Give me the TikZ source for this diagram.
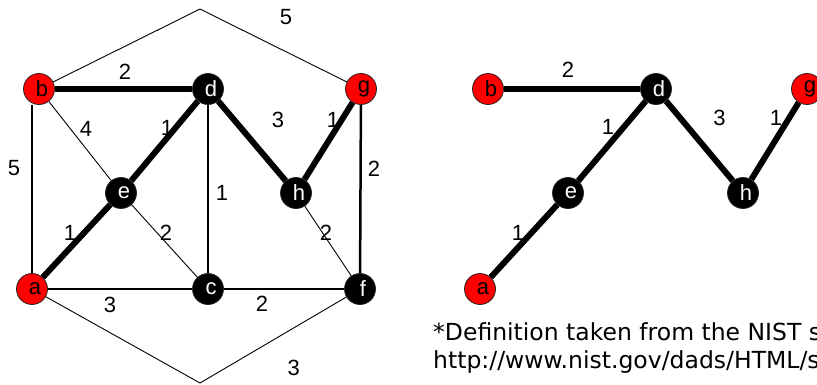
\documentclass[tikz,border=0pt]{standalone}
\usepackage{fontspec}
\setmainfont{Liberation Sans}
\newfontfamily\notefont{DejaVu Sans}
\usepackage{tikz}
\usetikzlibrary{positioning}

\begin{document}
\begin{tikzpicture}[x=1pt, y=-1pt,
  vertex/.style={circle,draw=black!85,line width=0.8pt,minimum size=31pt,inner sep=0pt,
    font=\fontsize{22}{22}\selectfont,execute at begin node={\hspace*{6pt}}},
  term/.style={vertex,fill=red,text=black},
  inner/.style={vertex,fill=black,text=white},
  wt/.style={font=\fontsize{22}{22}\selectfont,inner sep=0pt},
  tree/.style={line width=6pt},
  plain/.style={line width=2.5pt},
  light/.style={line width=0.9pt}]
  \useasboundingbox (0,0) rectangle (817,384);

  % full graph
  \node[term]  (b) at (39,89)   {b};
  \node[inner] (d) at (208,89)  {d};
  \node[term]  (g) at (361,89)  {g};
  \node[inner] (e) at (121,193) {e};
  \node[inner] (h) at (296,193) {h};
  \node[term]  (a) at (32,289)  {a};
  \node[inner] (c) at (208,289) {c};
  \node[inner] (f) at (360,289) {f};
  \coordinate (top) at (200,9);
  \coordinate (bot) at (200,383);

  \draw[tree] (b) -- node[wt,pos=.5,shift={(1.5,-17)}] {2} (d);
  \draw[tree] (d) -- node[wt,pos=.5,shift={(26,-21)}] {3} (h);
  \draw[tree] (h) -- node[wt,pos=.5,shift={(4.5,-21)}] {1} (g);
  \draw[tree] (d) -- node[wt,pos=.5,shift={(2.5,-13)}] {1} (e);
  \draw[tree] (e) -- node[wt,pos=.5,shift={(-6.5,-8)}] {1} (a);
  \draw[light] (b) -- node[wt,pos=.5,shift={(6,-12)}] {4} (e);
  \draw[plain] (a) -- node[wt,pos=.5,shift={(-18,-21)}] {5} (a |- b.south);
  \draw[plain] (d) -- node[wt,pos=.5,shift={(14,4)}] {1} (c);
  \draw[light] (e) -- node[wt,pos=.5,shift={(1.5,-8)}] {2} (c);
  \draw[plain] (a) -- node[wt,pos=.5,shift={(-10,16)}] {3} (c);
  \draw[plain] (c) -- node[wt,pos=.5,shift={(-22,15)}] {2} (f);
  \draw[plain] (g) -- node[wt,pos=.5,shift={(13.5,-20)}] {2} (f);
  \draw[light] (h) -- node[wt,pos=.5,shift={(-2,-8)}] {2} (f);
  \draw[light] (b) -- (top) -- node[wt,pos=.5,shift={(12.5,-28.5)}] {5} (g);
  \draw[light] (a) -- (bot) -- node[wt,pos=.5,shift={(20.7,28)}] {3} (f);

  % steiner tree
  \node[term]  (b2) at (488,89)  {b};
  \node[inner] (d2) at (656,89)  {d};
  \node[term]  (g2) at (807,89)  {g};
  \node[inner] (e2) at (568,193) {e};
  \node[inner] (h2) at (743,193) {h};
  \node[term]  (a2) at (480,289) {a};

  \draw[tree] (b2) -- node[wt,pos=.5,shift={(-4,-19)}] {2} (d2);
  \draw[tree] (d2) -- node[wt,pos=.5,shift={(20,-23)}] {3} (h2);
  \draw[tree] (h2) -- node[wt,pos=.5,shift={(1,-23)}] {1} (g2);
  \draw[tree] (d2) -- node[wt,pos=.5,shift={(-4,-14)}] {1} (e2);
  \draw[tree] (e2) -- node[wt,pos=.5,shift={(-6,-8)}] {1} (a2);

  \node[anchor=base west,align=left,inner sep=0pt,
    font=\notefont\fontsize{23.5}{28}\selectfont] (note) at (433,368)
    {*Definition taken from the NIST site:\\http://www.nist.gov/dads/HTML/steinertree.html};
\end{tikzpicture}
\end{document}
